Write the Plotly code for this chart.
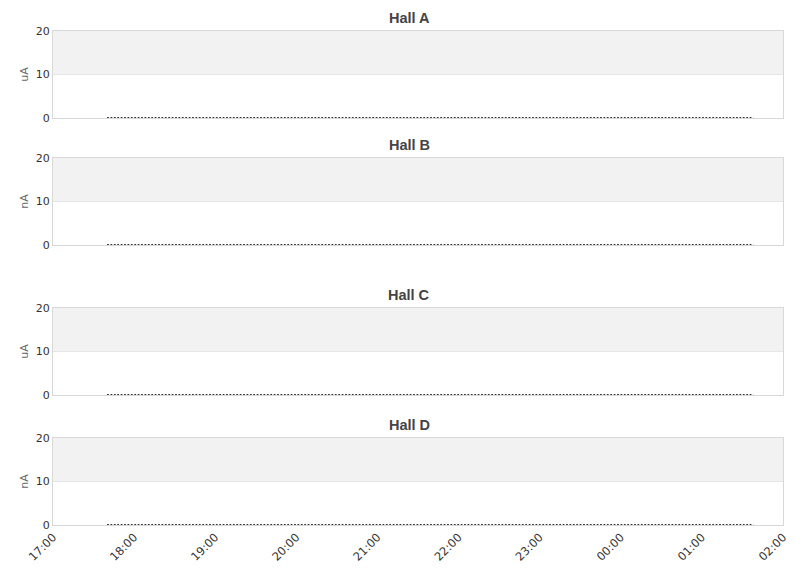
import pandas as pd
import plotly.graph_objects as go
from plotly.subplots import make_subplots

# halls shown top to bottom, with the unit of each current readout
halls = ["Hall A", "Hall B", "Hall C", "Hall D"]
units = ["uA", "nA", "uA", "nA"]

# beam current samples (all halls read zero over the shift)
sample_start = "2024-01-01 17:40"
sample_end = "2024-01-02 01:38"
sample_times = pd.date_range(sample_start, sample_end, freq="2min")
hall_a = [0.0] * len(sample_times)
hall_b = [0.0] * len(sample_times)
hall_c = [0.0] * len(sample_times)
hall_d = [0.0] * len(sample_times)
currents = [hall_a, hall_b, hall_c, hall_d]

x_range = ["2024-01-01 17:00", "2024-01-02 02:00"]
y_range = [0, 20]
band = [10, 20]

# panel domains in paper coords (plot area height 494 px)
domains = [(0.8239, 1.0), (0.5668, 0.7429), (0.2632, 0.4393), (0.0, 0.1761)]

fig = make_subplots(rows=4, cols=1, shared_xaxes=True)

grid = "#e6e6e6"
frame = "#d8d8d8"
tick_font = "DejaVu Sans, Verdana, sans-serif"
title_font = "Liberation Sans, Arial, sans-serif"

for i, (name, unit, vals) in enumerate(zip(halls, units, currents)):
    row = i + 1
    sfx = str(row) if row > 1 else ""
    fig.add_trace(go.Scatter(
        x=sample_times, y=vals, mode="lines", name=name,
        line=dict(color="#333333", width=2, dash="1.8px,1.6px"),
        showlegend=False, hoverinfo="x+y",
    ), row=row, col=1)

    # alternate band between 10 and 20
    fig.add_shape(type="rect", xref=f"x{sfx} domain", yref=f"y{sfx}",
                  x0=0, x1=1, y0=band[0], y1=band[1],
                  fillcolor="#f2f2f2", line=dict(width=0), layer="below")

    fig.layout[f"yaxis{sfx}"].update(
        domain=domains[i], range=y_range, tickvals=[0, 10, 20],
        gridcolor=grid, showline=True, linecolor=frame, mirror=True,
        zeroline=False, ticks="", automargin=False,
        tickfont=dict(size=11, color="#333333", family=tick_font),
        title=dict(text=unit, standoff=4,
                   font=dict(size=11, color="#666666", family=tick_font)),
    )
    fig.layout[f"xaxis{sfx}"].update(
        range=x_range, type="date", dtick=3600000, tickformat="%H:%M",
        showgrid=False, showline=True, linecolor=frame, mirror=True,
        zeroline=False, showticklabels=(row == 4), automargin=False,
    )

    fig.add_annotation(
        text=f"<b>{name}</b>", xref="paper", yref="paper",
        x=0.4877, y=domains[i][1], yanchor="bottom", yshift=3,
        showarrow=False, font=dict(size=14.5, color="#444444", family=title_font),
    )

fig.layout.xaxis4.update(tickangle=-45,
                         tickfont=dict(size=11.5, color="#333333", family=tick_font))

# the page draws the figure 7 px in from the top-left, so margins compensate
fig.update_layout(
    width=811, height=578,
    margin=dict(l=45, r=36, t=23, b=61),
    plot_bgcolor="white", paper_bgcolor="white",
)

fig.write_html("out.html")
